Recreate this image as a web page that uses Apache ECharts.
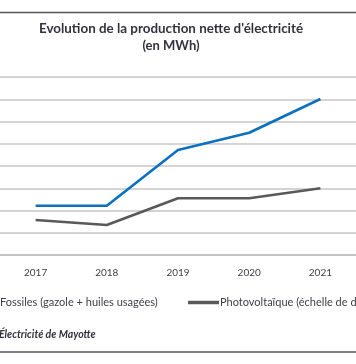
<!DOCTYPE html>
<html>
<head>
<meta charset="utf-8">
<script src="https://cdn.jsdelivr.net/npm/echarts@6/dist/echarts.min.js"></script>
<style>html,body{margin:0;padding:0;background:#fff}#c{width:356px;height:364px}</style>
</head>
<body>
<div id="c"></div>
<script>
var categories = ['2017', '2018', '2019', '2020', '2021'];
var fossiles = [333200, 333200, 370800, 382400, 405200];
var photovoltaique = [13150, 12700, 15100, 15100, 16000];
var seriesNames = ['Fossiles (gazole + huiles usagées)', 'Photovoltaïque (échelle de droite)'];
var titleLines = ["Evolution de la production nette d'électricité", '(en MWh)'];
var sourceText = 'Électricité de Mayotte';

var FONT = 'Lato';
var chart = echarts.init(document.getElementById('c'), null, {renderer: 'canvas'});
chart.setOption({
  animation: false,
  backgroundColor: '#fff',
  textStyle: {fontFamily: FONT},
  graphic: [
    {type: 'line', shape: {x1: 0, y1: 12.5, x2: 356, y2: 12.5}, style: {stroke: '#555', lineWidth: 1.5}},
    {type: 'line', shape: {x1: 0, y1: 352, x2: 356, y2: 352}, style: {stroke: '#555', lineWidth: 1.5}},
    {type: 'text', x: 171, y: 29, style: {text: titleLines[0], fill: '#333340', font: 'bold 13.4px ' + FONT, textAlign: 'center', textVerticalAlign: 'middle'}},
    {type: 'text', x: 171, y: 46, style: {text: titleLines[1], fill: '#333340', font: 'bold 13px ' + FONT, textAlign: 'center', textVerticalAlign: 'middle'}},
    {type: 'text', x: -1, y: 335, style: {text: sourceText, fill: '#333340', font: 'italic bold 10.5px ' + FONT, textAlign: 'left', textVerticalAlign: 'middle'}}
  ],
  legend: [
    {data: [{name: seriesNames[0], icon: 'rect'}], left: -33, top: 297, padding: 0, itemWidth: 28, itemHeight: 3.5, itemGap: 5,
     textStyle: {fontSize: 11, color: '#404048', fontFamily: FONT}},
    {data: [{name: seriesNames[1], icon: 'rect'}], left: 188, top: 297, padding: 0, itemWidth: 31, itemHeight: 3.5, itemGap: 2,
     textStyle: {fontSize: 11, color: '#404048', fontFamily: FONT, padding: [0, 0, 0, -4]}}
  ],
  grid: {left: -7.75, right: -3.75, top: 77, bottom: 109, containLabel: false},
  xAxis: {
    type: 'category', data: categories, boundaryGap: true,
    axisLine: {lineStyle: {color: '#bdbdbd', width: 1.5}},
    axisTick: {show: false},
    axisLabel: {fontSize: 10, color: '#404048', margin: 13, fontFamily: FONT}
  },
  yAxis: [
    {type: 'value', min: 300000, max: 420000, interval: 15000,
     axisLabel: {show: false}, axisLine: {show: false}, axisTick: {show: false},
     splitLine: {lineStyle: {color: '#c6c6c6', width: 1.5}}},
    {type: 'value', min: 10000, max: 26000, interval: 2000,
     axisLabel: {show: false}, axisLine: {show: false}, axisTick: {show: false},
     splitLine: {show: false}}
  ],
  series: [
    {name: seriesNames[0], type: 'line', data: fossiles, yAxisIndex: 0, symbol: 'none',
     lineStyle: {color: '#0a70bf', width: 2.6}, itemStyle: {color: '#0a70bf'}},
    {name: seriesNames[1], type: 'line', data: photovoltaique, yAxisIndex: 1, symbol: 'none',
     lineStyle: {color: '#595959', width: 2.6}, itemStyle: {color: '#595959'}}
  ]
});
</script>
</body>
</html>
